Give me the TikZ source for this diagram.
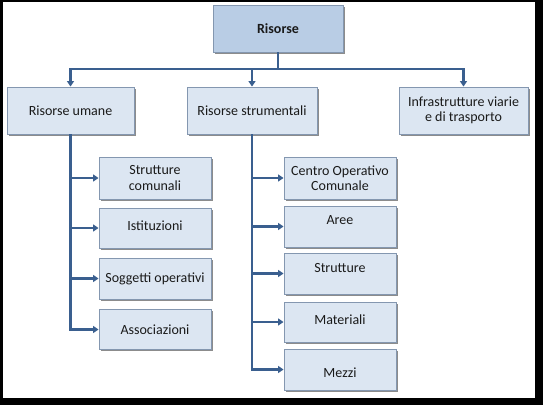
\documentclass[tikz,border=0pt]{standalone}
\usepackage{fontspec}
\setmainfont{Carlito}
\usetikzlibrary{arrows.meta,shadows}
\definecolor{conn}{HTML}{3A5F8F}
\definecolor{topfill}{HTML}{B9CDE5}
\definecolor{subfill}{HTML}{DCE6F2}
\definecolor{boxborder}{HTML}{8497B0}
\definecolor{txt}{HTML}{1A1A1A}
\begin{document}
\begin{tikzpicture}[x=1pt,y=-1pt,
  box/.style={draw=boxborder, line width=0.9pt, fill=subfill, minimum width=112pt,
    minimum height=41pt, inner sep=0pt, align=center, text=txt,
    font=\fontsize{14}{15.5}\selectfont,
    drop shadow={shadow xshift=1.6pt, shadow yshift=-1.6pt, fill=black, opacity=0.45}},
  lbl/.style={inner sep=0pt, align=center, text=txt, font=\fontsize{14}{15.5}\selectfont},
  line/.style={draw=conn, line width=2.4pt},
  arr/.style={line, -{Triangle[length=5.5pt,width=7pt]}}]
\fill[black] (0,0) rectangle (543,405);
\fill[white] (3,2) rectangle (535,398);
\useasboundingbox (0,0) rectangle (543,405);

% top level
\node[box, fill=topfill, minimum width=130pt, minimum height=47pt, font=\fontsize{14}{15.5}\selectfont\bfseries] (ris) at (278,28.5) {Risorse};
\node[box, minimum width=127pt, minimum height=47pt] (umane) at (70.5,110.5) {Risorse umane};
\node[box, minimum width=130pt, minimum height=47pt] (strum) at (252,110.5) {Risorse strumentali};
\node[box, minimum width=129pt, minimum height=47pt] (infra) at (463.5,110.5) {Infrastrutture viarie\\e di trasporto};

% left column
\node[box, minimum height=42pt] (sc) at (155,178) {Strutture\\comunali};
\node[box, minimum height=40pt] (ist) at (155,228) {};
\node[lbl] (ist-t) at (155,226) {Istituzioni};
\node[box] (sogg) at (155,278.5) {Soggetti operativi};
\node[box, minimum height=40pt] (ass) at (155,329.5) {Associazioni};

% right column
\node[box, minimum height=42pt] (coc) at (340,178) {Centro Operativo\\Comunale};
\node[box] (aree) at (340,226.5) {};
\node[lbl] (aree-t) at (340,220) {Aree};
\node[box] (strut) at (340,273.5) {};
\node[lbl] (strut-t) at (340,268) {Strutture};
\node[box, minimum height=40pt] (mat) at (340,322) {};
\node[lbl] (mat-t) at (340,320) {Materiali};
\node[box] (mezzi) at (340,369.5) {};
\node[lbl] (mezzi-t) at (340,373) {Mezzi};

% connectors
\coordinate (bus) at (278,69);
\draw[line] (ris.south) -- (bus);
\draw[arr] (bus) -| (umane.north);
\draw[arr] (bus) -| (infra.north);
\draw[arr] (bus -| strum.north) -- (strum.north);

\draw[arr] (umane.south) |- (ass.west);
\draw[arr] (umane.south |- sc.west) -- (sc.west);
\draw[arr] (umane.south |- ist.west) -- (ist.west);
\draw[arr] (umane.south |- sogg.west) -- (sogg.west);

\draw[arr] (strum.south) |- (mezzi.west);
\draw[arr] (strum.south |- coc.west) -- (coc.west);
\draw[arr] (strum.south |- aree.west) -- (aree.west);
\draw[arr] (strum.south |- strut.west) -- (strut.west);
\draw[arr] (strum.south |- mat.west) -- (mat.west);
\end{tikzpicture}
\end{document}
